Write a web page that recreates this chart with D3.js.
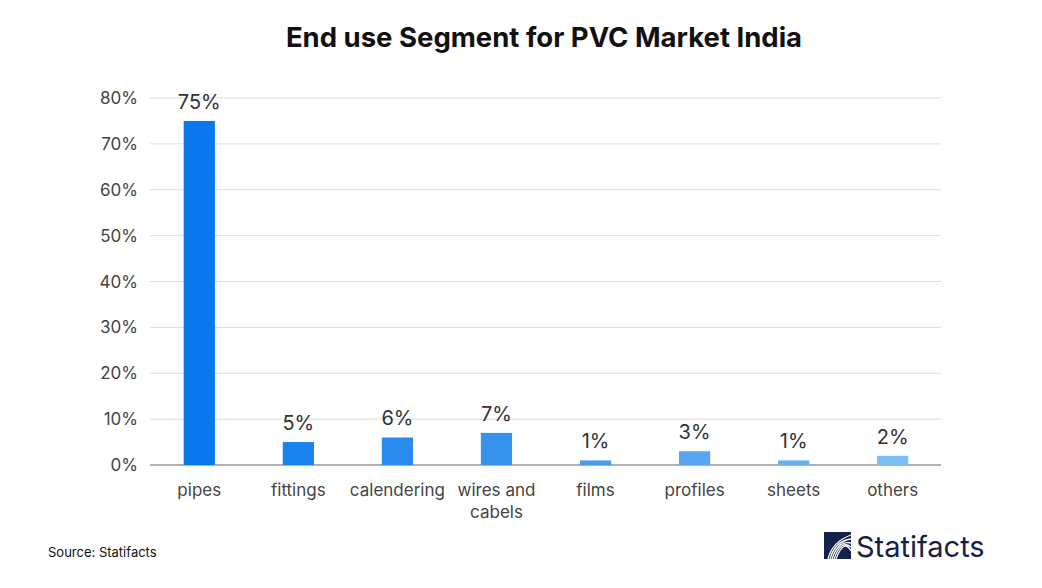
<!DOCTYPE html>
<html><head><meta charset="utf-8">
<script src="https://cdn.jsdelivr.net/npm/d3@7"></script>
<style>body{margin:0;background:#fff;font-family:Inter,"Noto Sans",sans-serif;}</style>
</head><body><svg id="c" width="1042" height="588"></svg>
<script>
var categories = ["pipes","fittings","calendering","wires and cabels","films","profiles","sheets","others"];
var values = [75,5,6,7,1,3,1,2];
var colors = ["#0a78ec","#1a82ec","#2a8aed","#3893ee","#4a9cf0","#58a5f1","#69b0f3","#7cbff5"];
var yTicks = [0,10,20,30,40,50,60,70,80];

var svg = d3.select("#c");
var x = d3.scaleBand().domain(categories).range([150,942]).paddingInner(0.685).paddingOuter(0.34);
var y = d3.scaleLinear().domain([0,80]).range([465,98]);

svg.append("text").attr("x",544).attr("y",47).attr("text-anchor","middle")
  .attr("font-size",27.5).attr("font-weight","bold").attr("fill","#111").text("End use Segment for PVC Market India");

svg.selectAll(".grid").data(yTicks).enter().append("line")
  .attr("x1",150).attr("x2",941).attr("y1",d=>y(d)).attr("y2",d=>y(d))
  .attr("stroke",d=>d==0?"#999":"#ddd").attr("stroke-width",d=>d==0?1.5:1);

svg.selectAll(".yl").data(yTicks).enter().append("text")
  .attr("x",138).attr("y",d=>y(d)+6).attr("text-anchor","end")
  .attr("font-size",17).attr("fill","#444").text(d=>d+"%");

svg.selectAll(".bar").data(values).enter().append("rect")
  .attr("x",(d,i)=>x(categories[i])).attr("width",x.bandwidth())
  .attr("y",d=>y(d)).attr("height",d=>y(0)-y(d)).attr("fill",(d,i)=>colors[i]);

svg.selectAll(".vl").data(values).enter().append("text")
  .attr("x",(d,i)=>x(categories[i])+x.bandwidth()/2).attr("y",d=>y(d)-12)
  .attr("text-anchor","middle").attr("font-size",20).attr("fill","#333").text(d=>d+"%");

categories.forEach(function(c){
  var t = svg.append("text").attr("x",x(c)+x.bandwidth()/2).attr("y",496)
    .attr("text-anchor","middle").attr("font-size",17).attr("fill","#444");
  var parts = c=="wires and cabels" ? ["wires and","cabels"] : [c];
  parts.forEach(function(p,k){ t.append("tspan").attr("x",x(c)+x.bandwidth()/2).attr("dy",k?22:0).text(p); });
});

svg.append("text").attr("x",48).attr("y",557).attr("font-size",13).attr("fill","#111").text("Source: Statifacts");

var g = svg.append("g").attr("transform","translate(824,532)");
g.append("rect").attr("width",27).attr("height",27).attr("fill","#14224a");
[0,1,2,3,4].forEach(function(k){
  g.append("path").attr("d","M"+(4+k*2)+",27 Q"+(8+k*3)+","+(10-k)+" 27,"+(3+k*4)).attr("stroke","#fff").attr("stroke-width",1.3).attr("fill","none");
});
svg.append("text").attr("x",856).attr("y",557).attr("font-size",29).attr("fill","#14224a").text("Statifacts");
</script></body></html>
